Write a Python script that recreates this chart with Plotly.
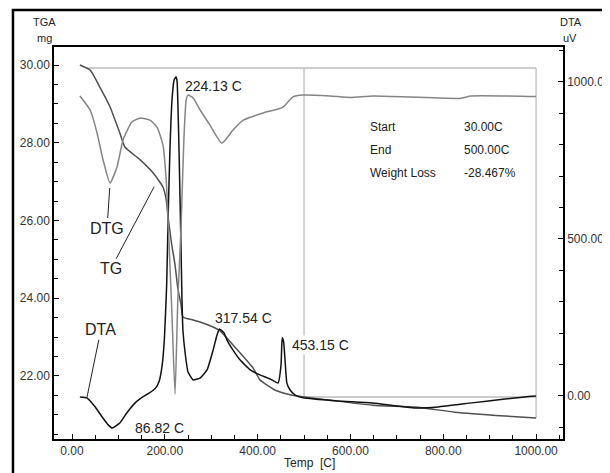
import numpy as np
import plotly.graph_objects as go

# ---------------- data ----------------
# TG (mg) vs temperature (C)
TG_T = [17, 39, 60, 82, 103, 114, 147, 175, 196, 203, 207, 215, 222, 228, 235, 239,
        261, 276, 304, 319, 347, 390, 405, 437, 470, 500, 647, 739, 825, 933, 1000]
TG_mg = [30.00, 29.87, 29.43, 28.92, 28.25, 27.89, 27.56, 27.22, 26.86, 26.53, 26.09,
         25.37, 24.86, 24.26, 23.83, 23.52, 23.44, 23.39, 23.26, 23.16, 22.80, 22.21,
         21.90, 21.64, 21.52, 21.46, 21.25, 21.20, 21.07, 20.97, 20.92]

# DTG (mg/min) vs temperature (C)
DTG_T = [17, 39, 54, 67, 82, 97, 110, 129, 147, 168, 183, 196, 203, 207, 215, 222,
         228, 235, 241, 246, 250, 261, 276, 297, 323, 347, 369, 412, 455, 476, 498,
         556, 600, 650, 836, 860, 1000]
DTG_v = [0.0, -0.047, -0.124, -0.215, -0.292, -0.238, -0.148, -0.087, -0.074, -0.081,
         -0.104, -0.165, -0.282, -0.416, -0.718, -1.0, -0.685, -0.44, -0.148, -0.013,
         0.003, -0.007, -0.047, -0.097, -0.158, -0.114, -0.081, -0.057, -0.037, -0.003,
         0.003, 0.0, -0.005, 0.0, -0.008, 0.0, -0.002]

# DTA (uV) vs temperature (C)
DTA_T = [17, 32, 50, 65, 78, 86.82, 103, 118, 136, 150, 165, 180, 188, 194, 199, 204,
         207, 211, 215.5, 220, 224.13, 226.5, 230.6, 235, 237, 239, 243.5, 250, 261,
         276, 291, 304, 312.5, 317.54, 327.6, 334, 347, 362, 384, 405, 427, 444, 450.4,
         452, 453.15, 456, 459, 463, 470, 481, 498, 573, 647, 739, 789, 862, 933, 976, 1000]
DTA_uV = [-3, -6, -35, -67, -92, -102, -86, -54, -22, -5, 8, 25, 48, 95, 180, 354,
          561, 783, 943, 1006, 1016, 1000, 783, 465, 306, 210, 140, 76, 51,
          57, 83, 146, 194, 213, 201, 178, 146, 115, 83, 67, 54, 41, 99,
          162, 185, 172, 115, 41, 19, 3, -6, -16, -22, -38, -35, -22, -10, -3, 0]

# labelled DTA peaks
peak_T = [86.82, 224.13, 317.54, 453.15]

# weight-loss evaluation
start_T = 30.0
end_T = 500.0
max_T = 1000.0
weight_loss = -28.467
info_labels = ["Start", "End", "Weight Loss"]
info_values = [f"{start_T:.2f}C", f"{end_T:.2f}C", f"{weight_loss:.3f}%"]

FONT = "Liberation Sans, Arial, sans-serif"

fig = go.Figure()
fig.add_trace(go.Scatter(x=TG_T, y=TG_mg, mode="lines", yaxis="y",
                         line=dict(color="#505050", width=1.5, shape="spline", smoothing=0.5),
                         name="TG", showlegend=False))
fig.add_trace(go.Scatter(x=DTG_T, y=DTG_v, mode="lines", yaxis="y3",
                         line=dict(color="#858585", width=1.5, shape="spline", smoothing=0.5),
                         name="DTG", showlegend=False))
fig.add_trace(go.Scatter(x=DTA_T, y=DTA_uV, mode="lines", yaxis="y2",
                         line=dict(color="#111111", width=1.5, shape="spline", smoothing=0.4),
                         name="DTA", showlegend=False))

tg_start = float(np.interp(start_T, TG_T, TG_mg))
tg_end = float(np.interp(end_T, TG_T, TG_mg))
tg_last = float(np.interp(max_T, TG_T, TG_mg))

gray = dict(color="#bdbdbd", width=1.3)
shapes = [
    dict(type="line", xref="x", yref="y", x0=start_T, x1=max_T, y0=tg_start, y1=tg_start, line=gray, layer="below"),
    dict(type="line", xref="x", yref="y", x0=end_T, x1=end_T, y0=tg_end, y1=tg_start, line=gray, layer="below"),
    dict(type="line", xref="x", yref="y", x0=end_T, x1=max_T, y0=tg_end, y1=tg_end, line=gray, layer="below"),
    dict(type="line", xref="x", yref="y", x0=max_T, x1=max_T, y0=tg_last, y1=tg_start, line=gray, layer="below"),
    # outer picture frame
    dict(type="path", xref="paper", yref="paper",
         path="M -0.0806,-0.3 L -0.0806,1.0944 L 1.3,1.0944",
         line=dict(color="black", width=2.5)),
]

tf = dict(family=FONT, size=12, color="#333333")
ann = []
shifts = {86.82: (21, 0, None), 224.13: (7, -9, None), 317.54: (-6, 11, None), 453.15: (8, -7, "white")}
for t in peak_T:
    xs, ys, bg = shifts[t]
    a = dict(x=t, y=float(np.interp(t, DTA_T, DTA_uV)), xref="x", yref="y2",
             text=f"{t:.2f} C", showarrow=False, xanchor="left", yanchor="middle",
             xshift=xs, yshift=ys, font=dict(family=FONT, size=14, color="#222"))
    if bg:
        a["bgcolor"] = bg
    ann.append(a)

dtg_min_i = int(np.argmin(DTG_v[:8]))
ann.append(dict(x=DTG_T[dtg_min_i], y=DTG_v[dtg_min_i], xref="x", yref="y3", text="DTG",
                showarrow=True, arrowhead=0, arrowwidth=1, arrowcolor="#222", ax=-3, ay=45,
                standoff=5, font=dict(family=FONT, size=16, color="#222")))
ann.append(dict(x=185, y=float(np.interp(185, TG_T, TG_mg)), xref="x", yref="y", text="TG",
                showarrow=True, arrowhead=0, arrowwidth=1, arrowcolor="#222", ax=-47, ay=89,
                standoff=8, font=dict(family=FONT, size=16, color="#222")))
ann.append(dict(x=DTA_T[1], y=DTA_uV[1], xref="x", yref="y2", text="DTA",
                showarrow=True, arrowhead=0, arrowwidth=1, arrowcolor="#222", ax=14, ay=-68,
                standoff=0, font=dict(family=FONT, size=16, color="#222")))

rows_y = [0.795, 0.737, 0.679]
for lab, val, yy in zip(info_labels, info_values, rows_y):
    ann.append(dict(x=0.617, y=yy, xref="paper", yref="paper", text=lab, showarrow=False,
                    xanchor="left", yanchor="middle", font=dict(family=FONT, size=12, color="#222")))
    ann.append(dict(x=0.801, y=yy, xref="paper", yref="paper", text=val, showarrow=False,
                    xanchor="left", yanchor="middle", font=dict(family=FONT, size=12, color="#222")))

for txt, x, y in [("TGA", -0.0196, 1.064), ("mg", -0.0196, 1.022),
                  ("DTA", 1.0157, 1.064), ("uV", 1.0137, 1.022)]:
    ann.append(dict(x=x, y=y, xref="paper", yref="paper", text=txt, showarrow=False,
                    xanchor="center", yanchor="middle", font=dict(family=FONT, size=11, color="#222")))
ann.append(dict(x=0.501, y=-0.061, xref="paper", yref="paper", text="Temp  [C]", showarrow=False,
                xanchor="center", yanchor="middle", font=dict(family=FONT, size=12, color="#222")))

axis_common = dict(showline=True, linecolor="black", linewidth=1.5, ticks="inside",
                   ticklen=5, tickwidth=1, tickcolor="black", showgrid=False, zeroline=False,
                   tickformat=".2f", tickfont=tf, automargin=False)

# page body has an 8px margin: figure is 8px smaller and shifted accordingly
fig.update_layout(
    width=602, height=465, autosize=False,
    margin=dict(l=46, r=47, t=39, b=34, pad=0),
    paper_bgcolor="white", plot_bgcolor="white",
    showlegend=False,
    xaxis=dict(range=[-38.8, 1058], tick0=0, dtick=200, mirror=True,
               minor=dict(dtick=50, ticks="inside", ticklen=4, tickcolor="black"),
               **axis_common),
    yaxis=dict(range=[20.379, 30.463], tick0=22, dtick=2, mirror=True,
               minor=dict(dtick=0.5, ticks="inside", ticklen=4, tickcolor="black"),
               **axis_common),
    yaxis2=dict(range=[-137, 1111], tick0=0, dtick=500, overlaying="y", side="right",
                minor=dict(dtick=100, ticks="inside", ticklen=4, tickcolor="black"),
                **axis_common),
    yaxis3=dict(range=[-1.151, 0.1644], overlaying="y", visible=False),
    shapes=shapes,
    annotations=ann,
)

fig.write_html("out.html")
